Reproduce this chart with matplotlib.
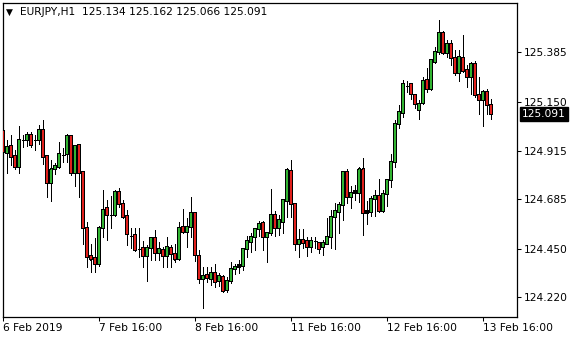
import matplotlib
matplotlib.use("Agg")
import matplotlib.pyplot as plt

# EURJPY H1 bars, 6 Feb 16:00 -> 13 Feb 18:00 (weekend skipped)
opens = [
    125.010, 124.906, 124.938, 124.890, 124.839, 124.966, 124.966, 124.990, 124.965, 124.966,
    125.014, 124.890, 124.763, 124.827, 124.839, 124.897, 124.900, 124.985, 124.811, 124.942,
    124.815, 124.547, 124.415, 124.404, 124.377, 124.547, 124.642, 124.610, 124.610, 124.718,
    124.665, 124.605, 124.512, 124.515, 124.451, 124.452, 124.415, 124.456, 124.499, 124.428,
    124.444, 124.415, 124.456, 124.423, 124.402, 124.554, 124.530, 124.554, 124.618, 124.416,
    124.304, 124.325, 124.307, 124.333, 124.298, 124.317, 124.254, 124.298, 124.352, 124.361,
    124.369, 124.447, 124.483, 124.504, 124.542, 124.573, 124.504, 124.523, 124.610, 124.551,
    124.578, 124.678, 124.820, 124.662, 124.475, 124.491, 124.486, 124.459, 124.486, 124.478,
    124.459, 124.475, 124.507, 124.602, 124.625, 124.656, 124.813, 124.697, 124.713, 124.716,
    124.827, 124.618, 124.625, 124.687, 124.699, 124.630, 124.710, 124.776, 124.862, 125.042,
    125.096, 125.226, 125.232, 125.180, 125.112, 125.143, 125.251, 125.208, 125.338, 125.385,
    125.478, 125.381, 125.425, 125.359, 125.286, 125.359, 125.302, 125.267, 125.327, 125.183,
    125.156, 125.195, 125.134,
]
highs = [
    125.014, 124.966, 124.990, 124.919, 125.033, 124.990, 125.005, 125.005, 124.990, 125.037,
    125.064, 124.895, 124.871, 124.858, 124.957, 124.927, 124.998, 124.990, 124.942, 124.946,
    124.820, 124.578, 124.472, 124.499, 124.558, 124.729, 124.681, 124.700, 124.729, 124.737,
    124.681, 124.634, 124.547, 124.547, 124.551, 124.488, 124.467, 124.507, 124.539, 124.483,
    124.459, 124.504, 124.467, 124.475, 124.577, 124.637, 124.594, 124.694, 124.623, 124.444,
    124.364, 124.361, 124.361, 124.380, 124.333, 124.325, 124.317, 124.388, 124.380, 124.396,
    124.456, 124.510, 124.523, 124.547, 124.583, 124.581, 124.530, 124.732, 124.630, 124.610,
    124.684, 124.836, 124.874, 124.662, 124.542, 124.543, 124.504, 124.504, 124.507, 124.482,
    124.491, 124.597, 124.634, 124.668, 124.673, 124.820, 124.827, 124.748, 124.752, 124.839,
    124.882, 124.676, 124.700, 124.729, 124.781, 124.729, 124.782, 124.903, 125.061, 125.132,
    125.251, 125.248, 125.235, 125.180, 125.159, 125.267, 125.311, 125.354, 125.409, 125.536,
    125.485, 125.444, 125.444, 125.397, 125.397, 125.465, 125.322, 125.338, 125.343, 125.267,
    125.207, 125.212, 125.162,
]
lows = [
    124.895, 124.811, 124.847, 124.828, 124.811, 124.934, 124.938, 124.934, 124.919, 124.950,
    124.855, 124.697, 124.678, 124.805, 124.836, 124.863, 124.863, 124.800, 124.748, 124.697,
    124.472, 124.364, 124.340, 124.340, 124.368, 124.505, 124.491, 124.551, 124.605, 124.649,
    124.594, 124.467, 124.452, 124.440, 124.409, 124.364, 124.298, 124.396, 124.396, 124.399,
    124.364, 124.361, 124.361, 124.388, 124.396, 124.523, 124.459, 124.504, 124.393, 124.288,
    124.167, 124.293, 124.277, 124.269, 124.273, 124.245, 124.245, 124.285, 124.330, 124.333,
    124.349, 124.412, 124.435, 124.444, 124.510, 124.444, 124.388, 124.515, 124.510, 124.515,
    124.526, 124.599, 124.602, 124.444, 124.409, 124.456, 124.415, 124.435, 124.452, 124.431,
    124.420, 124.472, 124.452, 124.447, 124.523, 124.589, 124.668, 124.646, 124.684, 124.673,
    124.515, 124.570, 124.605, 124.605, 124.625, 124.626, 124.653, 124.744, 124.839, 125.022,
    125.077, 125.195, 125.164, 125.121, 125.069, 125.140, 125.195, 125.204, 125.333, 125.375,
    125.378, 125.362, 125.322, 125.275, 125.248, 125.292, 125.219, 125.185, 125.172, 125.093,
    125.033, 125.090, 125.066,
]
closes = [
    124.910, 124.934, 124.887, 124.839, 124.966, 124.973, 124.990, 124.942, 124.961, 125.017,
    124.887, 124.763, 124.827, 124.843, 124.900, 124.900, 124.985, 124.811, 124.938, 124.811,
    124.551, 124.409, 124.399, 124.377, 124.551, 124.634, 124.610, 124.607, 124.718, 124.665,
    124.602, 124.518, 124.510, 124.444, 124.450, 124.415, 124.456, 124.502, 124.428, 124.447,
    124.415, 124.459, 124.425, 124.399, 124.551, 124.530, 124.554, 124.618, 124.420, 124.304,
    124.320, 124.312, 124.333, 124.293, 124.320, 124.250, 124.298, 124.352, 124.364, 124.372,
    124.448, 124.486, 124.507, 124.543, 124.570, 124.504, 124.523, 124.610, 124.551, 124.586,
    124.681, 124.824, 124.662, 124.475, 124.491, 124.478, 124.459, 124.486, 124.485, 124.447,
    124.478, 124.504, 124.602, 124.629, 124.657, 124.813, 124.697, 124.713, 124.724, 124.827,
    124.618, 124.629, 124.689, 124.700, 124.630, 124.710, 124.776, 124.862, 125.042, 125.100,
    125.232, 125.232, 125.185, 125.140, 125.140, 125.248, 125.208, 125.346, 125.385, 125.478,
    125.381, 125.425, 125.359, 125.286, 125.362, 125.295, 125.267, 125.327, 125.180, 125.156,
    125.195, 125.132, 125.091,
]

price_ticks = [124.220, 124.450, 124.685, 124.915, 125.150, 125.385]
time_tick_bars = [0, 24, 48, 72, 96, 120]
time_tick_labels = ["6 Feb 2019", "7 Feb 16:00", "8 Feb 16:00", "11 Feb 16:00", "12 Feb 16:00", "13 Feb 16:00"]
symbol = "EURJPY,H1"

BULL = "#32b432"
BEAR = "#e0201c"
FS = 7.7

fig = plt.figure(figsize=(5.8, 3.4), dpi=100)
ax = fig.add_axes([2.5 / 580, 1 - 316.5 / 340, (516.5 - 2.5) / 580, (316.5 - 2.5) / 340])
ax.set_xlim(-0.2, 128.3)
ax.set_ylim(124.128, 125.621)

# one screen pixel in price units, for the body outline
px = (125.621 - 124.128) / 314.0

xs = list(range(len(opens)))
ax.vlines(xs, lows, highs, color="black", linewidth=0.72, antialiased=False, zorder=2)
for i in xs:
    o, c = opens[i], closes[i]
    bottom = min(o, c)
    height = abs(c - o)
    color = BULL if c > o else BEAR
    if height < 1.5 * px:
        ax.hlines(o, i - 0.37, i + 0.37, color="black", linewidth=0.72, antialiased=False, zorder=3)
        continue
    ax.bar(i, height + px, bottom=bottom - px / 2, width=0.78, color="black",
           linewidth=0, antialiased=False, snap=False, zorder=3)
    if height > 2.5 * px:
        ax.bar(i, height - px, bottom=bottom + px / 2, width=0.3, color=color,
               linewidth=0, antialiased=False, snap=False, zorder=4)

for s in ax.spines.values():
    s.set_linewidth(0.9)
    s.set_color("black")

ax.yaxis.tick_right()
ax.set_yticks(price_ticks)
ax.set_yticklabels([f"{p:.3f}" for p in price_ticks], fontsize=FS)
ax.tick_params(axis="y", direction="out", length=3, width=0.75, pad=2, colors="black")

ax.set_xticks(time_tick_bars)
ax.set_xticklabels(time_tick_labels, fontsize=FS, ha="left")
ax.tick_params(axis="x", direction="out", length=3, width=0.75, pad=1.5, colors="black")

# header with last bar OHLC
fig.text(6 / 580, 1 - 12 / 340, "\u25bc", fontsize=6.5, va="center", ha="left", color="black")
fig.text(20 / 580, 1 - 12 / 340,
         f"{symbol}  {opens[-1]:.3f} {highs[-1]:.3f} {lows[-1]:.3f} {closes[-1]:.3f}",
         fontsize=FS, va="center", ha="left", color="black")

# current price tag
ax.annotate(f"{closes[-1]:.3f}", xy=(1.0, closes[-1]), xycoords=("axes fraction", "data"),
            xytext=(4, 0), textcoords="offset points", fontsize=FS, color="white",
            va="center", ha="left", annotation_clip=False,
            bbox=dict(boxstyle="square,pad=0.22", fc="black", ec="black"))

fig.savefig("out.png", dpi=100)
